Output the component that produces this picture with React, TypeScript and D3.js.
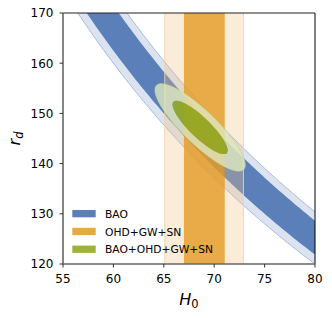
import React from "react";
import * as d3 from "d3";

// ---- data ----
const xDomain = [55, 80];
const yDomain = [120, 170];
const xTicks = [55, 60, 65, 70, 75, 80];
const yTicks = [120, 130, 140, 150, 160, 170];

// BAO: band in rd*H0 (product), edges of 95%/68%/68%/95% regions
const baoProductEdges = [9600, 9750, 10290, 10430];
// OHD+GW+SN: H0 interval edges, 95% lo, 68% lo, 68% hi, 95% hi
const ohdEdges = [65.1, 67.0, 71.05, 72.9];
// BAO+OHD+GW+SN: 2D gaussian
const combCenter = [68.6, 147.2];
const combSigma = [1.8, 3.5];
const combRho = -0.86;
const combLevels = [2.3, 6.17];

const legendLabels = ["BAO", "OHD+GW+SN", "BAO+OHD+GW+SN"];
const legendColors = ["#5b7fb9", "#e6aa45", "#9db23c"];

const W = 332;
const H = 318;
const font = "DejaVu Sans, sans-serif";

export default function App() {
  const x = d3.scaleLinear().domain(xDomain).range([63, 315]);
  const y = d3.scaleLinear().domain(yDomain).range([264, 13]);
  const [x0, x1] = x.range();
  const [y0, y1] = [y.range()[1], y.range()[0]];

  const hs = d3.range(0, 101).map((i) => xDomain[0] + ((xDomain[1] - xDomain[0]) * i) / 100);
  const band = (ca: number, cb: number) =>
    d3
      .area<number>()
      .x((h) => x(h))
      .y0((h) => y(ca / h))
      .y1((h) => y(cb / h))(hs) as string;
  const curve = (c: number) =>
    d3
      .line<number>()
      .x((h) => x(h))
      .y((h) => y(c / h))(hs) as string;

  const ellipse = (lvl: number) => {
    const k = Math.sqrt(lvl);
    const ts = d3.range(0, 180).map((i) => (i / 180) * 2 * Math.PI);
    const pts = ts.map((t) => {
      const hv = combCenter[0] + k * combSigma[0] * Math.cos(t);
      const rv =
        combCenter[1] +
        k * (combRho * combSigma[1] * Math.cos(t) + combSigma[1] * Math.sqrt(1 - combRho * combRho) * Math.sin(t));
      return [x(hv), y(rv)] as [number, number];
    });
    return d3.line().curve(d3.curveLinearClosed)(pts) as string;
  };
  const eIn = ellipse(combLevels[0]);
  const eOut = ellipse(combLevels[1]);

  const [b0, b1, b2, b3] = baoProductEdges;
  const [o0, o1, o2, o3] = ohdEdges;

  return (
    <svg width={W} height={H} style={{ position: "absolute", left: 0, top: 0, background: "#fff" }}>
      <defs>
        <clipPath id="plot">
          <rect x={x0} y={y0} width={x1 - x0} height={y1 - y0} />
        </clipPath>
      </defs>
      <g clipPath="url(#plot)">
        {/* BAO */}
        <path d={band(b0, b3)} fill="#dce3f0" />
        <path d={band(b1, b2)} fill={legendColors[0]} />
        <path d={curve(b0)} fill="none" stroke="#9fb3d8" strokeWidth={0.9} />
        <path d={curve(b3)} fill="none" stroke="#9fb3d8" strokeWidth={0.9} />
        {/* OHD+GW+SN */}
        <rect x={x(o0)} y={y0} width={x(o1) - x(o0)} height={y1 - y0} fill="#f2c080" fillOpacity={0.3} />
        <rect x={x(o2)} y={y0} width={x(o3) - x(o2)} height={y1 - y0} fill="#f2c080" fillOpacity={0.3} />
        <rect x={x(o1)} y={y0} width={x(o2) - x(o1)} height={y1 - y0} fill="#e49c27" fillOpacity={0.85} />
        {[o0, o3].map((v) => (
          <line key={v} x1={x(v)} x2={x(v)} y1={y0} y2={y1} stroke="#f3d3a4" strokeWidth={0.9} />
        ))}
        {/* Combined */}
        <path d={eOut + eIn} fill="#dfe8c0" fillOpacity={0.8} fillRule="evenodd" />
        <path d={eOut} fill="none" stroke="#c6d79c" strokeWidth={0.9} />
        <path d={eIn} fill="#92a925" fillOpacity={0.9} />
      </g>
      {/* spines */}
      <line x1={x0} x2={x1} y1={y0} y2={y0} stroke="#222" strokeWidth={1} />
      <line x1={x1} x2={x1} y1={y0} y2={y1} stroke="#000" strokeWidth={1} />
      <line x1={x0} x2={x0} y1={y0} y2={y1} stroke="#666" strokeWidth={1.6} />
      <line x1={x0} x2={x1} y1={y1} y2={y1} stroke="#666" strokeWidth={1.6} />
      {/* x ticks */}
      {xTicks.map((t) => (
        <g key={"x" + t}>
          <line x1={x(t)} x2={x(t)} y1={y1} y2={y1 + 3.5} stroke="#333" strokeWidth={1} />
          <text x={x(t)} y={283} fontFamily={font} fontSize={12} textAnchor="middle" fill="#000">
            {t}
          </text>
        </g>
      ))}
      {yTicks.map((t) => (
        <g key={"y" + t}>
          <line x1={x0 - 3.5} x2={x0} y1={y(t)} y2={y(t)} stroke="#333" strokeWidth={1} />
          <text x={53.5} y={y(t) + 4.4} fontFamily={font} fontSize={12} textAnchor="end" fill="#000">
            {t}
          </text>
        </g>
      ))}
      {/* axis labels */}
      <text x={(x0 + x1) / 2} y={305} fontFamily={font} fontSize={16} textAnchor="middle" fill="#000">
        <tspan fontStyle="italic">H</tspan>
        <tspan fontSize={11.5} dy={3}>0</tspan>
      </text>
      <text
        transform={`translate(20, ${(y0 + y1) / 2}) rotate(-90)`}
        fontFamily={font}
        fontSize={16}
        textAnchor="middle"
        fill="#000"
      >
        <tspan fontStyle="italic">r</tspan>
        <tspan fontStyle="italic" fontSize={11.5} dy={3}>d</tspan>
      </text>
      {/* legend */}
      {legendLabels.map((lab, i) => (
        <g key={lab}>
          <rect x={72.3} y={210 + i * 17.8} width={23.4} height={7.3} fill={legendColors[i]} />
          <text x={105} y={217.8 + i * 17.8} fontFamily={font} fontSize={10.7} fill="#000">
            {lab}
          </text>
        </g>
      ))}
    </svg>
  );
}
